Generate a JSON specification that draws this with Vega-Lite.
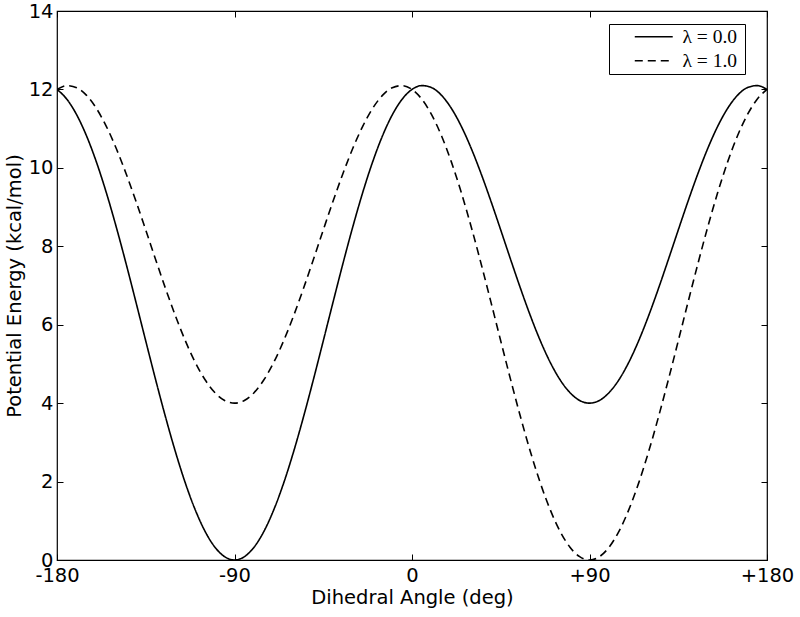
{
  "$schema": "https://vega.github.io/schema/vega-lite/v6.json",
  "autosize": {"type": "none"},
  "width": 710,
  "height": 549,
  "padding": {"left": 57, "top": 11, "right": 33, "bottom": 57},
  "background": "white",
  "config": {
    "view": {"stroke": "black", "strokeWidth": 1.2},
    "font": "DejaVu Sans",
    "axis": {
      "grid": false,
      "domain": false,
      "tickColor": "black",
      "tickSize": -6,
      "tickWidth": 1,
      "labelColor": "black",
      "titleColor": "black",
      "labelFont": "DejaVu Sans",
      "titleFont": "DejaVu Sans",
      "labelFontSize": 19.5,
      "titleFontSize": 19.5,
      "titleFontWeight": "normal",
      "labelOverlap": false,
      "labelFlush": false
    }
  },
  "datasets": {
    "curves": [
      {"angle": -180, "energy": 12.0, "series": "λ = 0.0"},
      {"angle": -175, "energy": 11.75, "series": "λ = 0.0"},
      {"angle": -170, "energy": 11.351, "series": "λ = 0.0"},
      {"angle": -165, "energy": 10.812, "series": "λ = 0.0"},
      {"angle": -160, "energy": 10.146, "series": "λ = 0.0"},
      {"angle": -155, "energy": 9.369, "series": "λ = 0.0"},
      {"angle": -150, "energy": 8.5, "series": "λ = 0.0"},
      {"angle": -145, "energy": 7.563, "series": "λ = 0.0"},
      {"angle": -140, "energy": 6.582, "series": "λ = 0.0"},
      {"angle": -135, "energy": 5.586, "series": "λ = 0.0"},
      {"angle": -130, "energy": 4.6, "series": "λ = 0.0"},
      {"angle": -125, "energy": 3.652, "series": "λ = 0.0"},
      {"angle": -120, "energy": 2.768, "series": "λ = 0.0"},
      {"angle": -115, "energy": 1.973, "series": "λ = 0.0"},
      {"angle": -110, "energy": 1.291, "series": "λ = 0.0"},
      {"angle": -105, "energy": 0.738, "series": "λ = 0.0"},
      {"angle": -100, "energy": 0.332, "series": "λ = 0.0"},
      {"angle": -95, "energy": 0.084, "series": "λ = 0.0"},
      {"angle": -90, "energy": 0.0, "series": "λ = 0.0"},
      {"angle": -85, "energy": 0.084, "series": "λ = 0.0"},
      {"angle": -80, "energy": 0.332, "series": "λ = 0.0"},
      {"angle": -75, "energy": 0.738, "series": "λ = 0.0"},
      {"angle": -70, "energy": 1.291, "series": "λ = 0.0"},
      {"angle": -65, "energy": 1.973, "series": "λ = 0.0"},
      {"angle": -60, "energy": 2.768, "series": "λ = 0.0"},
      {"angle": -55, "energy": 3.652, "series": "λ = 0.0"},
      {"angle": -50, "energy": 4.6, "series": "λ = 0.0"},
      {"angle": -45, "energy": 5.586, "series": "λ = 0.0"},
      {"angle": -40, "energy": 6.582, "series": "λ = 0.0"},
      {"angle": -35, "energy": 7.563, "series": "λ = 0.0"},
      {"angle": -30, "energy": 8.5, "series": "λ = 0.0"},
      {"angle": -25, "energy": 9.369, "series": "λ = 0.0"},
      {"angle": -20, "energy": 10.146, "series": "λ = 0.0"},
      {"angle": -15, "energy": 10.812, "series": "λ = 0.0"},
      {"angle": -10, "energy": 11.351, "series": "λ = 0.0"},
      {"angle": -5, "energy": 11.75, "series": "λ = 0.0"},
      {"angle": 0, "energy": 12.0, "series": "λ = 0.0"},
      {"angle": 5, "energy": 12.098, "series": "λ = 0.0"},
      {"angle": 10, "energy": 12.045, "series": "λ = 0.0"},
      {"angle": 15, "energy": 11.848, "series": "λ = 0.0"},
      {"angle": 20, "energy": 11.514, "series": "λ = 0.0"},
      {"angle": 25, "energy": 11.059, "series": "λ = 0.0"},
      {"angle": 30, "energy": 10.5, "series": "λ = 0.0"},
      {"angle": 35, "energy": 9.857, "series": "λ = 0.0"},
      {"angle": 40, "energy": 9.154, "series": "λ = 0.0"},
      {"angle": 45, "energy": 8.414, "series": "λ = 0.0"},
      {"angle": 50, "energy": 7.664, "series": "λ = 0.0"},
      {"angle": 55, "energy": 6.928, "series": "λ = 0.0"},
      {"angle": 60, "energy": 6.232, "series": "λ = 0.0"},
      {"angle": 65, "energy": 5.599, "series": "λ = 0.0"},
      {"angle": 70, "energy": 5.049, "series": "λ = 0.0"},
      {"angle": 75, "energy": 4.602, "series": "λ = 0.0"},
      {"angle": 80, "energy": 4.272, "series": "λ = 0.0"},
      {"angle": 85, "energy": 4.068, "series": "λ = 0.0"},
      {"angle": 90, "energy": 4.0, "series": "λ = 0.0"},
      {"angle": 95, "energy": 4.068, "series": "λ = 0.0"},
      {"angle": 100, "energy": 4.272, "series": "λ = 0.0"},
      {"angle": 105, "energy": 4.602, "series": "λ = 0.0"},
      {"angle": 110, "energy": 5.049, "series": "λ = 0.0"},
      {"angle": 115, "energy": 5.599, "series": "λ = 0.0"},
      {"angle": 120, "energy": 6.232, "series": "λ = 0.0"},
      {"angle": 125, "energy": 6.928, "series": "λ = 0.0"},
      {"angle": 130, "energy": 7.664, "series": "λ = 0.0"},
      {"angle": 135, "energy": 8.414, "series": "λ = 0.0"},
      {"angle": 140, "energy": 9.154, "series": "λ = 0.0"},
      {"angle": 145, "energy": 9.857, "series": "λ = 0.0"},
      {"angle": 150, "energy": 10.5, "series": "λ = 0.0"},
      {"angle": 155, "energy": 11.059, "series": "λ = 0.0"},
      {"angle": 160, "energy": 11.514, "series": "λ = 0.0"},
      {"angle": 165, "energy": 11.848, "series": "λ = 0.0"},
      {"angle": 170, "energy": 12.045, "series": "λ = 0.0"},
      {"angle": 175, "energy": 12.098, "series": "λ = 0.0"},
      {"angle": 180, "energy": 12.0, "series": "λ = 0.0"},
      {"angle": -180, "energy": 12.0, "series": "λ = 1.0"},
      {"angle": -175, "energy": 12.098, "series": "λ = 1.0"},
      {"angle": -170, "energy": 12.045, "series": "λ = 1.0"},
      {"angle": -165, "energy": 11.848, "series": "λ = 1.0"},
      {"angle": -160, "energy": 11.514, "series": "λ = 1.0"},
      {"angle": -155, "energy": 11.059, "series": "λ = 1.0"},
      {"angle": -150, "energy": 10.5, "series": "λ = 1.0"},
      {"angle": -145, "energy": 9.857, "series": "λ = 1.0"},
      {"angle": -140, "energy": 9.154, "series": "λ = 1.0"},
      {"angle": -135, "energy": 8.414, "series": "λ = 1.0"},
      {"angle": -130, "energy": 7.664, "series": "λ = 1.0"},
      {"angle": -125, "energy": 6.928, "series": "λ = 1.0"},
      {"angle": -120, "energy": 6.232, "series": "λ = 1.0"},
      {"angle": -115, "energy": 5.599, "series": "λ = 1.0"},
      {"angle": -110, "energy": 5.049, "series": "λ = 1.0"},
      {"angle": -105, "energy": 4.602, "series": "λ = 1.0"},
      {"angle": -100, "energy": 4.272, "series": "λ = 1.0"},
      {"angle": -95, "energy": 4.068, "series": "λ = 1.0"},
      {"angle": -90, "energy": 4.0, "series": "λ = 1.0"},
      {"angle": -85, "energy": 4.068, "series": "λ = 1.0"},
      {"angle": -80, "energy": 4.272, "series": "λ = 1.0"},
      {"angle": -75, "energy": 4.602, "series": "λ = 1.0"},
      {"angle": -70, "energy": 5.049, "series": "λ = 1.0"},
      {"angle": -65, "energy": 5.599, "series": "λ = 1.0"},
      {"angle": -60, "energy": 6.232, "series": "λ = 1.0"},
      {"angle": -55, "energy": 6.928, "series": "λ = 1.0"},
      {"angle": -50, "energy": 7.664, "series": "λ = 1.0"},
      {"angle": -45, "energy": 8.414, "series": "λ = 1.0"},
      {"angle": -40, "energy": 9.154, "series": "λ = 1.0"},
      {"angle": -35, "energy": 9.857, "series": "λ = 1.0"},
      {"angle": -30, "energy": 10.5, "series": "λ = 1.0"},
      {"angle": -25, "energy": 11.059, "series": "λ = 1.0"},
      {"angle": -20, "energy": 11.514, "series": "λ = 1.0"},
      {"angle": -15, "energy": 11.848, "series": "λ = 1.0"},
      {"angle": -10, "energy": 12.045, "series": "λ = 1.0"},
      {"angle": -5, "energy": 12.098, "series": "λ = 1.0"},
      {"angle": 0, "energy": 12.0, "series": "λ = 1.0"},
      {"angle": 5, "energy": 11.75, "series": "λ = 1.0"},
      {"angle": 10, "energy": 11.351, "series": "λ = 1.0"},
      {"angle": 15, "energy": 10.812, "series": "λ = 1.0"},
      {"angle": 20, "energy": 10.146, "series": "λ = 1.0"},
      {"angle": 25, "energy": 9.369, "series": "λ = 1.0"},
      {"angle": 30, "energy": 8.5, "series": "λ = 1.0"},
      {"angle": 35, "energy": 7.563, "series": "λ = 1.0"},
      {"angle": 40, "energy": 6.582, "series": "λ = 1.0"},
      {"angle": 45, "energy": 5.586, "series": "λ = 1.0"},
      {"angle": 50, "energy": 4.6, "series": "λ = 1.0"},
      {"angle": 55, "energy": 3.652, "series": "λ = 1.0"},
      {"angle": 60, "energy": 2.768, "series": "λ = 1.0"},
      {"angle": 65, "energy": 1.973, "series": "λ = 1.0"},
      {"angle": 70, "energy": 1.291, "series": "λ = 1.0"},
      {"angle": 75, "energy": 0.738, "series": "λ = 1.0"},
      {"angle": 80, "energy": 0.332, "series": "λ = 1.0"},
      {"angle": 85, "energy": 0.084, "series": "λ = 1.0"},
      {"angle": 90, "energy": 0.0, "series": "λ = 1.0"},
      {"angle": 95, "energy": 0.084, "series": "λ = 1.0"},
      {"angle": 100, "energy": 0.332, "series": "λ = 1.0"},
      {"angle": 105, "energy": 0.738, "series": "λ = 1.0"},
      {"angle": 110, "energy": 1.291, "series": "λ = 1.0"},
      {"angle": 115, "energy": 1.973, "series": "λ = 1.0"},
      {"angle": 120, "energy": 2.768, "series": "λ = 1.0"},
      {"angle": 125, "energy": 3.652, "series": "λ = 1.0"},
      {"angle": 130, "energy": 4.6, "series": "λ = 1.0"},
      {"angle": 135, "energy": 5.586, "series": "λ = 1.0"},
      {"angle": 140, "energy": 6.582, "series": "λ = 1.0"},
      {"angle": 145, "energy": 7.563, "series": "λ = 1.0"},
      {"angle": 150, "energy": 8.5, "series": "λ = 1.0"},
      {"angle": 155, "energy": 9.369, "series": "λ = 1.0"},
      {"angle": 160, "energy": 10.146, "series": "λ = 1.0"},
      {"angle": 165, "energy": 10.812, "series": "λ = 1.0"},
      {"angle": 170, "energy": 11.351, "series": "λ = 1.0"},
      {"angle": 175, "energy": 11.75, "series": "λ = 1.0"},
      {"angle": 180, "energy": 12.0, "series": "λ = 1.0"}
    ]
  },
  "data": {"name": "curves"},
  "layer": [
    {
      "mark": {"type": "line", "strokeWidth": 1.6, "interpolate": "monotone", "clip": true},
      "encoding": {
        "x": {
          "field": "angle", "type": "quantitative",
          "scale": {"domain": [-180, 180], "nice": false},
          "axis": {
            "orient": "bottom",
            "values": [-180, -90, 0, 90, 180],
            "labelExpr": "datum.value > 0 ? '+' + datum.value : '' + datum.value",
            "labelPadding": 12,
            "title": "Dihedral Angle (deg)",
            "titlePadding": 4
          }
        },
        "y": {
          "field": "energy", "type": "quantitative",
          "scale": {"domain": [0, 14], "nice": false, "zero": false},
          "axis": {
            "orient": "left",
            "values": [0, 2, 4, 6, 8, 10, 12, 14],
            "labelPadding": 10,
            "title": "Potential Energy (kcal/mol)",
            "titlePadding": 4
          }
        },
        "color": {"value": "black"},
        "strokeDash": {
          "field": "series", "type": "nominal",
          "scale": {"domain": ["λ = 0.0", "λ = 1.0"], "range": [[1, 0], [8, 5]]},
          "legend": {
            "orient": "none",
            "legendX": 552,
            "legendY": 13,
            "title": null,
            "symbolType": "M-3,0H3",
            "symbolSize": 160,
            "symbolStrokeColor": "black",
            "symbolStrokeWidth": 1.6,
            "symbolOffset": 32,
            "labelFont": "Liberation Serif",
            "labelFontSize": 19.5,
            "labelColor": "black",
            "labelOffset": 19,
            "labelExpr": "datum.label + '\u00a0\u200b'",
            "strokeColor": "black",
            "fillColor": "white",
            "padding": 3,
            "rowPadding": 3,
            "cornerRadius": 0
          }
        }
      }
    },
    {
      "mark": {"type": "line", "opacity": 0},
      "encoding": {
        "x": {
          "field": "angle", "type": "quantitative",
          "axis": {"orient": "top", "values": [-180, -90, 0, 90, 180], "labels": false, "title": null}
        },
        "y": {
          "field": "energy", "type": "quantitative",
          "axis": {"orient": "right", "values": [0, 2, 4, 6, 8, 10, 12, 14], "labels": false, "title": null}
        },
        "detail": {"field": "series", "type": "nominal"}
      }
    }
  ],
  "resolve": {"axis": {"x": "independent", "y": "independent"}}
}
